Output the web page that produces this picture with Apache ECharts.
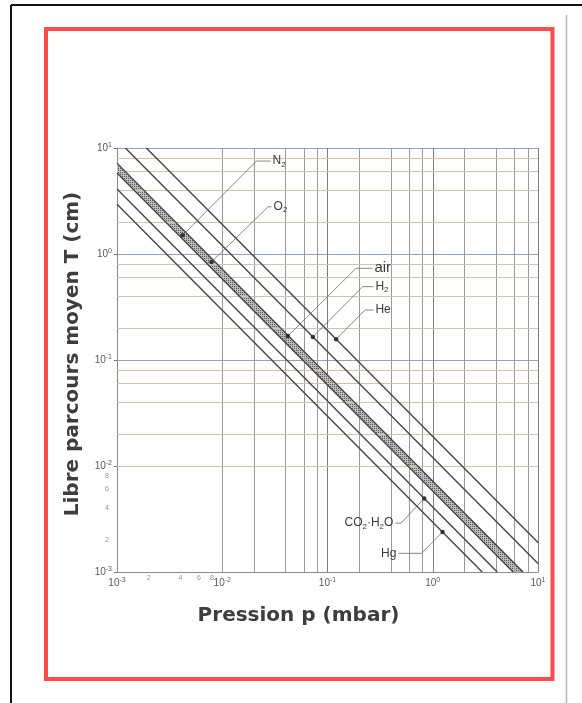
<!DOCTYPE html>
<html><head><meta charset="utf-8">
<script src="https://cdn.jsdelivr.net/npm/echarts@6/dist/echarts.min.js"></script>
<style>html,body{margin:0;padding:0;background:#fff}#c{width:582px;height:703px}</style>
</head><body><div id="c"></div>
<script>
// ---- data (p in mbar, mean free path in cm) ----
const xDecades = [0.001, 0.01, 0.1, 1, 10];
const yDecades = [0.001, 0.01, 0.1, 1, 10];
const minorMultipliers = [2, 4, 6, 8];
const xMinorLabelled = [0.002, 0.004, 0.006, 0.008];
const yMinorLabelled = [0.002, 0.004, 0.006, 0.008];

const heLine   = [[0.0019, 10], [10, 0.0019]];
const h2Line   = [[0.0012, 10], [10, 0.0012]];
const bandUpper = [[0.001, 7.2], [7.2, 0.001]];
const bandLower = [[0.001, 5.8], [5.8, 0.001]];
const co2Line  = [[0.001, 4.1], [4.1, 0.001]];
const hgLine   = [[0.001, 2.95], [2.95, 0.001]];

// leader annotations: [dot on curve, knee, end near label]
const labelN2  = [[0.0042, 1.5], [0.0211, 7.53], [0.0288, 7.53]];
const labelO2  = [[0.0079, 0.84], [0.0272, 2.79], [0.0294, 2.79]];
const labelAir = [[0.042, 0.168], [0.1866, 0.733], [0.267, 0.733]];
const labelH2  = [[0.0726, 0.165], [0.216, 0.492], [0.273, 0.492]];
const labelHe  = [[0.1208, 0.157], [0.2275, 0.296], [0.273, 0.296]];
const labelCO2 = [[0.83, 0.00494], [0.50, 0.00289], [0.4416, 0.00289]];
const labelHg  = [[1.239, 0.00238], [0.78, 0.0015], [0.471, 0.0015]];

const xTitle = 'Pression p (mbar)';
const yTitle = 'Libre parcours moyen T (cm)';

// ---------------------------------------------------------------
const chart = echarts.init(document.getElementById('c'));
const FONT = '"Liberation Sans", Arial, Helvetica, sans-serif';
const TFONT = '"DejaVu Sans", "Liberation Sans", sans-serif';

function supFmt(v) {
  const e = Math.round(Math.log10(v));
  return '{b|10}{s|' + e + '}';
}
const supRich = {
  b: {fontSize: 10, color: '#5a5a5a', fontFamily: FONT, lineHeight: 12},
  s: {fontSize: 7, color: '#5a5a5a', fontFamily: FONT, verticalAlign: 'top', lineHeight: 12, padding: [0, 0, 4, 0]}
};

const minorX = [], minorY = [];
xDecades.slice(0, -1).forEach(d => minorMultipliers.forEach(m => minorX.push({xAxis: +(d * m).toPrecision(3)})));
yDecades.slice(0, -1).forEach(d => minorMultipliers.forEach(m => minorY.push({yAxis: +(d * m).toPrecision(3)})));

// dotted pattern for the hatched band
const pc = document.createElement('canvas');
pc.width = 2; pc.height = 2;
const pctx = pc.getContext('2d');
pctx.fillStyle = '#bdbdbd'; pctx.fillRect(0, 0, 2, 2);
pctx.fillStyle = '#555'; pctx.fillRect(0, 0, 1, 1);

const lineStyleGas = {color: '#454545', width: 1.4};
function gasSeries(name, data) {
  return {name, type: 'line', data, symbol: 'none', silent: true, lineStyle: lineStyleGas, z: 5};
}
const labRich = {
  n: {fontSize: 12, color: '#3a3a3a', fontFamily: FONT},
  s: {fontSize: 8, color: '#3a3a3a', fontFamily: FONT, verticalAlign: 'bottom', padding: [7, 0, 0, 0]},
  a: {fontSize: 15, color: '#3a3a3a', fontFamily: FONT}
};
function leader(name, data, text, pos) {
  return {
    name, type: 'line', silent: true, z: 6,
    lineStyle: {color: '#6a6a6a', width: 0.8},
    symbol: 'circle', itemStyle: {color: '#333'},
    data: data.map((d, i) => {
      const o = {value: d, symbolSize: i === 0 ? 4.5 : 0};
      if (i === data.length - 1) {
        o.label = {show: true, position: pos, distance: 2, formatter: text, rich: labRich};
      }
      return o;
    })
  };
}
const minorLabelStyle = {fontSize: 7, color: '#777', fontFamily: FONT};

const option = {
  animation: false,
  backgroundColor: '#fff',
  grid: {left: 117, top: 148, width: 421, height: 424},
  xAxis: {
    type: 'log', logBase: 10, min: 0.001, max: 10,
    axisLine: {show: true, lineStyle: {color: '#8a8a8a', width: 1}},
    axisTick: {show: false},
    axisLabel: {formatter: supFmt, rich: supRich, margin: 5},
    splitLine: {show: true, lineStyle: {color: '#7c7c7c', width: 1}},
    name: xTitle, nameLocation: 'middle', nameGap: 34,
    nameTextStyle: {fontSize: 20, fontWeight: 'bold', color: '#3d3d3d', fontFamily: TFONT, padding: [0, 58, 0, 0]}
  },
  yAxis: {
    type: 'log', logBase: 10, min: 0.001, max: 10,
    axisLine: {show: true, lineStyle: {color: '#8a8a8a', width: 1}},
    axisTick: {show: true, length: 3, lineStyle: {color: '#777'}},
    axisLabel: {formatter: supFmt, rich: supRich, margin: 5},
    splitLine: {show: true, lineStyle: {color: '#8ea4c2', width: 1}},
    name: yTitle, nameLocation: 'middle', nameGap: 34,
    nameTextStyle: {fontSize: 20, fontWeight: 'bold', color: '#3d3d3d', fontFamily: TFONT, padding: [0, 0, 0, 12]}
  },
  graphic: [
    {type: 'line', shape: {x1: 11, y1: 5, x2: 582, y2: 5}, style: {stroke: '#111', lineWidth: 2}, silent: true},
    {type: 'line', shape: {x1: 11, y1: 5, x2: 11, y2: 703}, style: {stroke: '#111', lineWidth: 2}, silent: true},
    {type: 'line', shape: {x1: 566.5, y1: 15, x2: 566.5, y2: 703}, style: {stroke: '#b8b8b8', lineWidth: 1.5}, silent: true},
    {type: 'rect', shape: {x: 46, y: 29, width: 506.5, height: 650}, style: {fill: 'none', stroke: '#ff4b4b', lineWidth: 4}, silent: true}
  ],
  series: [
    {
      type: 'line', data: [], silent: true, symbol: 'none',
      markLine: {
        silent: true, symbol: 'none', animation: false, label: {show: false},
        lineStyle: {color: '#999', width: 1, type: 'solid'},
        data: minorX
      }
    },
    {
      type: 'line', data: [], silent: true, symbol: 'none',
      markLine: {
        silent: true, symbol: 'none', animation: false, label: {show: false},
        lineStyle: {color: '#d6c2aa', width: 1, type: 'solid'},
        data: minorY
      }
    },
    {
      type: 'scatter', silent: true, symbolSize: 0.01,
      data: xMinorLabelled.map(v => [v, yDecades[0]]),
      label: {show: true, position: 'bottom', distance: 3, formatter: p => String(Math.round(p.value[0] / xDecades[0])), ...minorLabelStyle}
    },
    {
      type: 'scatter', silent: true, symbolSize: 0.01,
      data: yMinorLabelled.map(v => [xDecades[0], v]),
      label: {show: true, position: 'left', distance: 8, formatter: p => String(Math.round(p.value[1] / yDecades[0])), ...minorLabelStyle}
    },
    {
      type: 'custom', silent: true, z: 4,
      data: [bandUpper[0]],
      renderItem: function (params, api) {
        const pts = bandUpper.map(d => api.coord(d)).concat(bandLower.slice().reverse().map(d => api.coord(d)));
        return {type: 'polygon', shape: {points: pts}, style: {fill: {image: pc, repeat: 'repeat'}, stroke: null}};
      }
    },
    gasSeries('He', heLine),
    gasSeries('H2', h2Line),
    gasSeries('band upper', bandUpper),
    gasSeries('band lower', bandLower),
    gasSeries('CO2 H2O', co2Line),
    gasSeries('Hg', hgLine),
    leader('N2 label', labelN2, '{n|N}{s|2}', 'right'),
    leader('O2 label', labelO2, '{n|O}{s|2}', 'right'),
    leader('air label', labelAir, '{a|air}', 'right'),
    leader('H2 label', labelH2, '{n|H}{s|2}', 'right'),
    leader('He label', labelHe, '{n|He}', 'right'),
    leader('CO2 label', labelCO2, '{n|CO}{s|2}{n|·H}{s|2}{n|O}', 'left'),
    leader('Hg label', labelHg, '{n|Hg}', 'left')
  ]
};
chart.setOption(option);
</script></body></html>
